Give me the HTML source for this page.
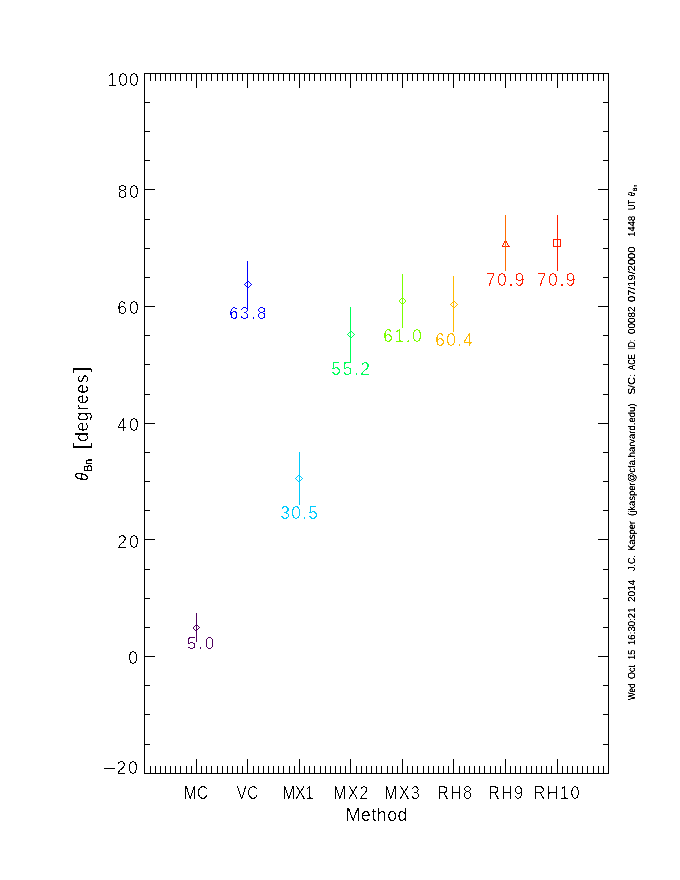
<!DOCTYPE html>
<html lang="en"><head><meta charset="utf-8"><title>theta Bn by method</title>
<style>html,body{margin:0;padding:0;background:#fff}svg{display:block}text{font-family:"Liberation Sans",sans-serif;white-space:pre}.t{filter:url(#fa)}.m{filter:url(#fm)}.u{filter:url(#fu)}.c{filter:url(#fc)}.b{filter:url(#fb)}.s{filter:url(#fs);text-rendering:geometricPrecision}</style></head><body>
<svg width="680" height="880" viewBox="0 0 680 880">
<defs><filter id="fa" x="-10%" y="-30%" width="120%" height="160%" color-interpolation-filters="sRGB"><feComponentTransfer><feFuncA type="discrete" tableValues="0 0 1"/></feComponentTransfer></filter><filter id="fm" x="-10%" y="-30%" width="120%" height="160%" color-interpolation-filters="sRGB"><feComponentTransfer><feFuncA type="discrete" tableValues="0 0 0 0 0 1 1 1"/></feComponentTransfer></filter><filter id="fu" x="-10%" y="-30%" width="120%" height="160%" color-interpolation-filters="sRGB"><feComponentTransfer><feFuncA type="discrete" tableValues="0 0 0 0 0 0 0 1 1 1 1 1"/></feComponentTransfer></filter><filter id="fb" x="-10%" y="-30%" width="120%" height="160%" color-interpolation-filters="sRGB"><feComponentTransfer><feFuncA type="discrete" tableValues="0 1"/></feComponentTransfer></filter><filter id="fc" x="-10%" y="-30%" width="120%" height="160%" color-interpolation-filters="sRGB"><feComponentTransfer><feFuncA type="discrete" tableValues="0 0 0 0 0 1 1 1 1 1 1"/></feComponentTransfer></filter><filter id="fs" x="-10%" y="-30%" width="120%" height="160%" color-interpolation-filters="sRGB"><feComponentTransfer><feFuncA type="linear" slope="2.6" intercept="-0.45"/></feComponentTransfer></filter></defs>
<rect width="680" height="880" fill="#fff"/>
<g shape-rendering="crispEdges">
<path fill="#000" d="M144 73h465v1h-465zM144 773h465v1h-465zM144 73h1v701h-1zM608 73h1v701h-1zM150 73h1v8h-1zM150 766h1v8h-1zM155 73h1v8h-1zM155 766h1v8h-1zM160 73h1v8h-1zM160 766h1v8h-1zM165 73h1v8h-1zM165 766h1v8h-1zM170 73h1v8h-1zM170 766h1v8h-1zM175 73h1v8h-1zM175 766h1v8h-1zM180 73h1v8h-1zM180 766h1v8h-1zM186 73h1v8h-1zM186 766h1v8h-1zM191 73h1v8h-1zM191 766h1v8h-1zM196 73h1v15h-1zM196 759h1v15h-1zM201 73h1v8h-1zM201 766h1v8h-1zM206 73h1v8h-1zM206 766h1v8h-1zM211 73h1v8h-1zM211 766h1v8h-1zM217 73h1v8h-1zM217 766h1v8h-1zM222 73h1v8h-1zM222 766h1v8h-1zM227 73h1v8h-1zM227 766h1v8h-1zM232 73h1v8h-1zM232 766h1v8h-1zM237 73h1v8h-1zM237 766h1v8h-1zM242 73h1v8h-1zM242 766h1v8h-1zM247 73h1v15h-1zM247 759h1v15h-1zM253 73h1v8h-1zM253 766h1v8h-1zM258 73h1v8h-1zM258 766h1v8h-1zM263 73h1v8h-1zM263 766h1v8h-1zM268 73h1v8h-1zM268 766h1v8h-1zM273 73h1v8h-1zM273 766h1v8h-1zM278 73h1v8h-1zM278 766h1v8h-1zM283 73h1v8h-1zM283 766h1v8h-1zM289 73h1v8h-1zM289 766h1v8h-1zM294 73h1v8h-1zM294 766h1v8h-1zM299 73h1v15h-1zM299 759h1v15h-1zM304 73h1v8h-1zM304 766h1v8h-1zM309 73h1v8h-1zM309 766h1v8h-1zM314 73h1v8h-1zM314 766h1v8h-1zM320 73h1v8h-1zM320 766h1v8h-1zM325 73h1v8h-1zM325 766h1v8h-1zM330 73h1v8h-1zM330 766h1v8h-1zM335 73h1v8h-1zM335 766h1v8h-1zM340 73h1v8h-1zM340 766h1v8h-1zM345 73h1v8h-1zM345 766h1v8h-1zM350 73h1v15h-1zM350 759h1v15h-1zM356 73h1v8h-1zM356 766h1v8h-1zM361 73h1v8h-1zM361 766h1v8h-1zM366 73h1v8h-1zM366 766h1v8h-1zM371 73h1v8h-1zM371 766h1v8h-1zM376 73h1v8h-1zM376 766h1v8h-1zM381 73h1v8h-1zM381 766h1v8h-1zM387 73h1v8h-1zM387 766h1v8h-1zM392 73h1v8h-1zM392 766h1v8h-1zM397 73h1v8h-1zM397 766h1v8h-1zM402 73h1v15h-1zM402 759h1v15h-1zM407 73h1v8h-1zM407 766h1v8h-1zM412 73h1v8h-1zM412 766h1v8h-1zM417 73h1v8h-1zM417 766h1v8h-1zM423 73h1v8h-1zM423 766h1v8h-1zM428 73h1v8h-1zM428 766h1v8h-1zM433 73h1v8h-1zM433 766h1v8h-1zM438 73h1v8h-1zM438 766h1v8h-1zM443 73h1v8h-1zM443 766h1v8h-1zM448 73h1v8h-1zM448 766h1v8h-1zM453 73h1v15h-1zM453 759h1v15h-1zM459 73h1v8h-1zM459 766h1v8h-1zM464 73h1v8h-1zM464 766h1v8h-1zM469 73h1v8h-1zM469 766h1v8h-1zM474 73h1v8h-1zM474 766h1v8h-1zM479 73h1v8h-1zM479 766h1v8h-1zM484 73h1v8h-1zM484 766h1v8h-1zM490 73h1v8h-1zM490 766h1v8h-1zM495 73h1v8h-1zM495 766h1v8h-1zM500 73h1v8h-1zM500 766h1v8h-1zM505 73h1v15h-1zM505 759h1v15h-1zM510 73h1v8h-1zM510 766h1v8h-1zM515 73h1v8h-1zM515 766h1v8h-1zM520 73h1v8h-1zM520 766h1v8h-1zM526 73h1v8h-1zM526 766h1v8h-1zM531 73h1v8h-1zM531 766h1v8h-1zM536 73h1v8h-1zM536 766h1v8h-1zM541 73h1v8h-1zM541 766h1v8h-1zM546 73h1v8h-1zM546 766h1v8h-1zM551 73h1v8h-1zM551 766h1v8h-1zM557 73h1v15h-1zM557 759h1v15h-1zM562 73h1v8h-1zM562 766h1v8h-1zM567 73h1v8h-1zM567 766h1v8h-1zM572 73h1v8h-1zM572 766h1v8h-1zM577 73h1v8h-1zM577 766h1v8h-1zM582 73h1v8h-1zM582 766h1v8h-1zM587 73h1v8h-1zM587 766h1v8h-1zM593 73h1v8h-1zM593 766h1v8h-1zM598 73h1v8h-1zM598 766h1v8h-1zM603 73h1v8h-1zM603 766h1v8h-1zM144 102h6v1h-6zM603 102h6v1h-6zM144 131h6v1h-6zM603 131h6v1h-6zM144 160h6v1h-6zM603 160h6v1h-6zM144 189h11v1h-11zM598 189h11v1h-11zM144 219h6v1h-6zM603 219h6v1h-6zM144 248h6v1h-6zM603 248h6v1h-6zM144 277h6v1h-6zM603 277h6v1h-6zM144 306h11v1h-11zM598 306h11v1h-11zM144 335h6v1h-6zM603 335h6v1h-6zM144 364h6v1h-6zM603 364h6v1h-6zM144 394h6v1h-6zM603 394h6v1h-6zM144 423h11v1h-11zM598 423h11v1h-11zM144 452h6v1h-6zM603 452h6v1h-6zM144 481h6v1h-6zM603 481h6v1h-6zM144 510h6v1h-6zM603 510h6v1h-6zM144 539h11v1h-11zM598 539h11v1h-11zM144 569h6v1h-6zM603 569h6v1h-6zM144 598h6v1h-6zM603 598h6v1h-6zM144 627h6v1h-6zM603 627h6v1h-6zM144 656h11v1h-11zM598 656h11v1h-11zM144 685h6v1h-6zM603 685h6v1h-6zM144 714h6v1h-6zM603 714h6v1h-6zM144 744h6v1h-6zM603 744h6v1h-6z"/>
<path fill="#4f005e" d="M195 625h1v1h-1zM196 625h1v1h-1zM197 625h1v1h-1zM194 626h1v1h-1zM198 626h1v1h-1zM193 627h1v1h-1zM199 627h1v1h-1zM193 628h1v1h-1zM198 628h1v1h-1zM194 629h1v1h-1zM197 629h1v1h-1zM195 630h1v1h-1zM196 630h1v1h-1zM196 613h1v29h-1z"/>
<path fill="#0000ff" d="M244 284h1v1h-1zM245 283h1v1h-1zM245 285h1v1h-1zM246 282h1v1h-1zM246 286h1v1h-1zM247 281h1v1h-1zM247 287h1v1h-1zM248 281h1v1h-1zM248 287h1v1h-1zM249 282h1v1h-1zM249 286h1v1h-1zM250 283h1v1h-1zM250 285h1v1h-1zM251 284h1v1h-1zM247 261h1v47h-1z"/>
<path fill="#00ccff" d="M295 478h1v1h-1zM296 477h1v1h-1zM296 479h1v1h-1zM297 476h1v1h-1zM297 480h1v1h-1zM298 475h1v1h-1zM298 481h1v1h-1zM299 475h1v1h-1zM299 481h1v1h-1zM300 476h1v1h-1zM300 480h1v1h-1zM301 477h1v1h-1zM301 479h1v1h-1zM302 478h1v1h-1zM299 452h1v53h-1z"/>
<path fill="#00ff5a" d="M347 334h1v1h-1zM348 333h1v1h-1zM348 335h1v1h-1zM349 332h1v1h-1zM349 336h1v1h-1zM350 331h1v1h-1zM350 337h1v1h-1zM351 331h1v1h-1zM351 337h1v1h-1zM352 332h1v1h-1zM352 336h1v1h-1zM353 333h1v1h-1zM353 335h1v1h-1zM354 334h1v1h-1zM350 307h1v56h-1z"/>
<path fill="#7bff00" d="M401 298h1v1h-1zM402 298h1v1h-1zM403 298h1v1h-1zM400 299h1v1h-1zM404 299h1v1h-1zM399 300h1v1h-1zM405 300h1v1h-1zM399 301h1v1h-1zM405 301h1v1h-1zM400 302h1v1h-1zM404 302h1v1h-1zM401 303h1v1h-1zM402 303h1v1h-1zM403 303h1v1h-1zM402 274h1v54h-1z"/>
<path fill="#ffb900" d="M450 304h1v1h-1zM451 303h1v1h-1zM451 305h1v1h-1zM452 302h1v1h-1zM452 306h1v1h-1zM453 301h1v1h-1zM453 307h1v1h-1zM454 301h1v1h-1zM454 307h1v1h-1zM455 302h1v1h-1zM455 306h1v1h-1zM456 303h1v1h-1zM456 305h1v1h-1zM457 304h1v1h-1zM453 276h1v56h-1z"/>
<path fill="#ff1e00" d="M502 246h8v1h-8zM505 240h1v1h-1zM505 240h1v1h-1zM504 241h1v1h-1zM506 241h1v1h-1zM504 242h1v1h-1zM506 242h1v1h-1zM503 243h1v1h-1zM507 243h1v1h-1zM503 244h1v1h-1zM507 244h1v1h-1zM502 245h1v1h-1zM508 245h1v1h-1zM553 239h8v1h-8zM553 246h8v1h-8zM553 239h1v8h-1zM560 239h1v8h-1zM557 215h1v56h-1z"/>
<path fill="#ff6c00" d="M505 215h1v56h-1z"/>
</g>
<text class="t" x="107.3" y="86" font-size="17.6" fill="#000" letter-spacing="1.07">100</text>
<text class="t" x="117.55" y="198" font-size="17.6" fill="#000" letter-spacing="1.62">80</text>
<text class="t" x="117.3" y="314" font-size="17.6" fill="#000" letter-spacing="1.92">60</text>
<text class="t" x="117.05" y="431" font-size="17.6" fill="#000" letter-spacing="2.22">40</text>
<text class="t" x="117.3" y="548" font-size="17.6" fill="#000" letter-spacing="1.92">20</text>
<text class="t" x="128.35" y="664" font-size="17.6" fill="#000">0</text>
<text class="t" y="774" font-size="17.6" fill="#000"><tspan x="101.9" textLength="15.3" lengthAdjust="spacingAndGlyphs">-</tspan><tspan x="116.4" letter-spacing="1.92">20</tspan></text>
<text class="m" transform="translate(183.87 799) scale(0.88 1)" font-size="17.6" fill="#000" letter-spacing="0.28">MC</text>
<text class="t" transform="translate(236.5 799) scale(0.86 1)" font-size="17.6" fill="#000" letter-spacing="0.85">VC</text>
<text class="t" transform="translate(282.35 799) scale(0.9 1)" font-size="17.6" fill="#000" letter-spacing="-0.53">MX1</text>
<text class="t" transform="translate(333.35 799) scale(0.9 1)" font-size="17.6" fill="#000" letter-spacing="1.3">MX2</text>
<text class="t" transform="translate(384.35 799) scale(0.9 1)" font-size="17.6" fill="#000" letter-spacing="1.58">MX3</text>
<text class="t" transform="translate(437.07 799) scale(0.93 1)" font-size="17.6" fill="#000" letter-spacing="1.24">RH8</text>
<text class="t" transform="translate(488.07 799) scale(0.93 1)" font-size="17.6" fill="#000" letter-spacing="1.2">RH9</text>
<text class="t" transform="translate(533.57 799) scale(0.93 1)" font-size="17.6" fill="#000" letter-spacing="1.5">RH10</text>
<text class="t" x="345.8" y="821" font-size="17.6" fill="#000" letter-spacing="0.58">Method</text>
<text class="t" x="187.05" y="649" font-size="16.5" fill="#4f005e" letter-spacing="2.12">5.0</text>
<text class="t" x="229.3" y="319" font-size="16.5" fill="#0000ff" letter-spacing="1.62">63.8</text>
<text class="t" x="280.3" y="519" font-size="17.6" fill="#00ccff" letter-spacing="1.18">30.5</text>
<text class="t" x="331.3" y="375" font-size="17.6" fill="#00ff5a" letter-spacing="1.51">55.2</text>
<text class="t" x="383.3" y="342" font-size="17.6" fill="#7bff00" letter-spacing="1.41">61.0</text>
<text class="t" x="435.3" y="346" font-size="17.6" fill="#ffb900" letter-spacing="1.08">60.4</text>
<text class="t" x="485.8" y="286" font-size="17.6" fill="#ff1e00" letter-spacing="1.51">70.9</text>
<text class="t" x="536.8" y="286" font-size="17.6" fill="#ff1e00" letter-spacing="1.51">70.9</text>
<text class="c" transform="translate(88 480.7) rotate(-90) scale(0.840 1)" font-size="17.6" fill="#000" font-style="italic">θ</text>
<text class="b" transform="translate(92 471.7) rotate(-90) scale(0.943 1)" font-size="11.2" fill="#000" stroke="#000" stroke-width="0.3">Bn</text>
<text class="t" transform="translate(87.7 449.98) rotate(-90) scale(1.280 1)" font-size="20.2" fill="#000">[</text>
<text class="u" transform="translate(88 441.95) rotate(-90)" font-size="17.6" fill="#000" letter-spacing="0.65">degrees</text>
<text class="t" transform="translate(87.7 373.7) rotate(-90) scale(1.420 1)" font-size="20.2" fill="#000">]</text>
<text class="s" transform="translate(635 700) rotate(-90) scale(0.792 1)" font-size="10.2" fill="#000">Wed</text>
<text class="s" transform="translate(635 679) rotate(-90) scale(0.874 1)" font-size="10.2" fill="#000">Oct</text>
<text class="s" transform="translate(635 659.7) rotate(-90) scale(0.891 1)" font-size="10.2" fill="#000">15</text>
<text class="s" transform="translate(635 645.2) rotate(-90) scale(0.948 1)" font-size="10.2" fill="#000">16:30:21</text>
<text class="s" transform="translate(635 602) rotate(-90) scale(0.987 1)" font-size="10.2" fill="#000">2014</text>
<text class="s" transform="translate(635 571) rotate(-90) scale(0.868 1)" font-size="10.2" fill="#000">J.C.</text>
<text class="s" transform="translate(635 550.7) rotate(-90) scale(0.924 1)" font-size="10.2" fill="#000">Kasper</text>
<text class="s" transform="translate(635 516) rotate(-90) scale(0.931 1)" font-size="10.2" fill="#000">(jkasper@cfa.harvard.edu)</text>
<text class="s" transform="translate(635 394.7) rotate(-90) scale(1.038 1)" font-size="10.2" fill="#000">S/C:</text>
<text class="s" transform="translate(635 370) rotate(-90) scale(0.756 1)" font-size="10.2" fill="#000">ACE</text>
<text class="s" transform="translate(635 349.7) rotate(-90) scale(0.796 1)" font-size="10.2" fill="#000">ID:</text>
<text class="s" transform="translate(635 334) rotate(-90) scale(0.966 1)" font-size="10.2" fill="#000">00082</text>
<text class="s" transform="translate(635 302) rotate(-90) scale(1.085 1)" font-size="10.2" fill="#000">07/19/2000</text>
<text class="s" transform="translate(635 236.7) rotate(-90) scale(0.931 1)" font-size="10.2" fill="#000">1448</text>
<text class="s" transform="translate(635 210) rotate(-90) scale(0.749 1)" font-size="10.2" fill="#000">UT</text>
<text class="s" transform="translate(635 196) rotate(-90) scale(0.667 1)" font-size="10.2" fill="#000" font-style="italic">θ</text>
<text class="s" transform="translate(637 191) rotate(-90) scale(0.824 1)" font-size="6.2" fill="#000">Bn</text>
</svg></body></html>
